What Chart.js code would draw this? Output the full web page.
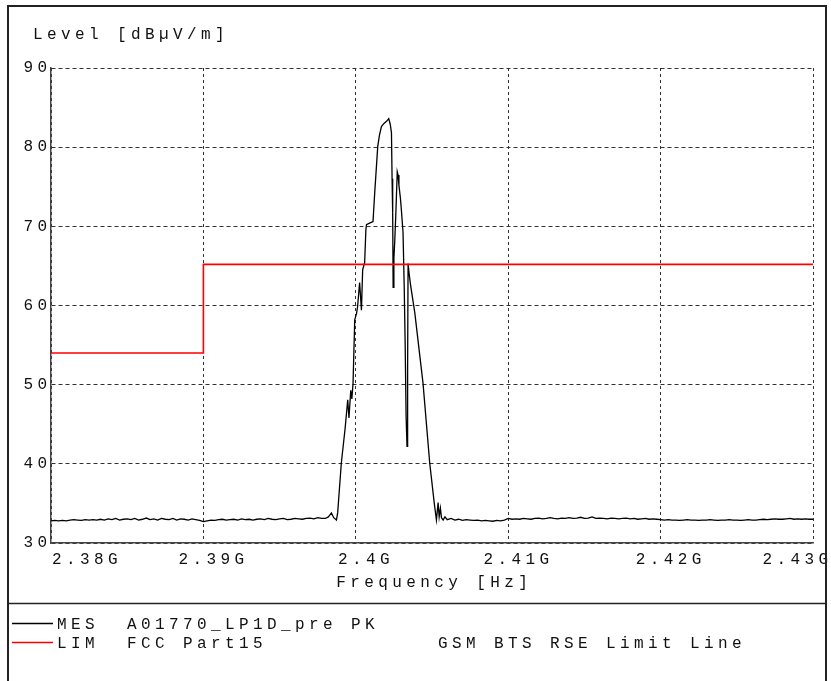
<!DOCTYPE html>
<html>
<head>
    <title>Level [dBµV/m]</title>
    <meta charset="UTF-8">
    <script src="https://cdn.jsdelivr.net/npm/chart.js"></script>
    <style>
        body {
            margin: 0;
            background: #fff;
        }
        #wrap {
            width: 831px;
            height: 681px;
        }
    </style>
</head>
<body>
    <div id="wrap"><canvas id="scan" width="831" height="681"></canvas></div>

    <script>
        // noise floor below the carrier (MHz / dBµV/m)
        const floorLeftMHz = [
            2380, 2380.25, 2380.5, 2380.75, 2381, 2381.25, 2381.5, 2381.75,
            2382, 2382.25, 2382.5, 2382.75, 2383, 2383.25, 2383.5, 2383.75,
            2384, 2384.25, 2384.5, 2384.75, 2385, 2385.25, 2385.5, 2385.75,
            2386, 2386.25, 2386.5, 2386.75, 2387, 2387.25, 2387.5, 2387.75,
            2388, 2388.25, 2388.5, 2388.75, 2389, 2389.25, 2389.5, 2389.75,
            2390, 2390.25, 2390.5, 2390.75, 2391, 2391.25, 2391.5, 2391.75,
            2392, 2392.25, 2392.5, 2392.75, 2393, 2393.25, 2393.5, 2393.75,
            2394, 2394.25, 2394.5, 2394.75, 2395, 2395.25, 2395.5, 2395.75,
            2396, 2396.25, 2396.5, 2396.75, 2397, 2397.25, 2397.5, 2397.75
        ];
        const floorLeftLevel = [
            32.8, 32.85, 32.8, 32.85, 32.8, 32.9, 32.95, 32.9,
            32.85, 32.95, 32.9, 32.95, 32.9, 33.0, 32.9, 33.05,
            32.95, 33.1, 32.9, 33.0, 33.05, 32.95, 33.1, 32.9,
            33.0, 33.15, 32.95, 33.05, 32.9, 33.1, 33.0, 32.95,
            33.1, 32.9, 33.05, 33.0, 32.9, 33.05, 32.95, 32.85,
            32.7, 32.8, 32.9, 32.85, 32.95, 33.0, 32.9, 32.95,
            33.0, 32.9, 33.05, 32.95, 33.0, 32.9, 33.0, 33.05,
            32.95, 33.1, 33.0, 32.95, 33.05, 33.1, 32.95, 33.0,
            33.1, 33.05, 33.0, 33.1, 33.15, 33.05, 33.2, 33.1
        ];

        // the carrier itself
        const peakMHz = [
            2398.00, 2398.20, 2398.40, 2398.55, 2398.73, 2398.81, 2399.05, 2399.30,
            2399.47, 2399.55, 2399.67, 2399.74, 2399.82, 2399.93, 2400.05, 2400.12,
            2400.25, 2400.37, 2400.45, 2400.58, 2400.66, 2400.70, 2400.90, 2401.13,
            2401.24, 2401.44, 2401.55, 2401.68, 2401.85, 2402.03, 2402.16, 2402.26,
            2402.34, 2402.38, 2402.42, 2402.45, 2402.50, 2402.55, 2402.62, 2402.72,
            2402.77, 2402.83, 2402.93, 2402.99, 2403.10, 2403.18, 2403.24, 2403.30,
            2403.36, 2403.40, 2403.43, 2403.50, 2403.60, 2403.87, 2404.41, 2404.85,
            2405.15, 2405.29, 2405.40, 2405.47, 2405.55, 2405.62, 2405.73, 2405.85
        ];
        const peakLevel = [
            33.1, 33.3, 33.8, 33.2, 32.9, 33.8, 40.1, 44.5,
            48.1, 45.8, 49.3, 48.2, 50.2, 58.2, 59.0, 59.9,
            62.9, 59.4, 64.5, 65.4, 69.5, 70.2, 70.4, 70.6,
            74.2, 80.1, 81.5, 82.6, 83.0, 83.3, 83.6, 82.9,
            81.8, 76.0, 71.7, 62.3, 66.0, 67.9, 71.2, 76.9,
            76.5, 75.2, 73.5, 72.1, 69.2, 62.0, 55.0, 46.0,
            42.2, 52.0, 65.3, 64.0, 62.5, 59.1, 50.2, 40.1,
            35.0, 32.9, 35.1, 33.3, 34.4, 33.2, 32.9, 33.3
        ];

        // noise floor above the carrier
        const floorRightMHz = [
            2406, 2406.25, 2406.5, 2406.75, 2407, 2407.25, 2407.5, 2407.75,
            2408, 2408.25, 2408.5, 2408.75, 2409, 2409.25, 2409.5, 2409.75,
            2410, 2410.25, 2410.5, 2410.75, 2411, 2411.25, 2411.5, 2411.75,
            2412, 2412.25, 2412.5, 2412.75, 2413, 2413.25, 2413.5, 2413.75,
            2414, 2414.25, 2414.5, 2414.75, 2415, 2415.25, 2415.5, 2415.75,
            2416, 2416.25, 2416.5, 2416.75, 2417, 2417.25, 2417.5, 2417.75,
            2418, 2418.25, 2418.5, 2418.75, 2419, 2419.25, 2419.5, 2419.75,
            2420, 2420.25, 2420.5, 2420.75, 2421, 2421.25, 2421.5, 2421.75,
            2422, 2422.25, 2422.5, 2422.75, 2423, 2423.25, 2423.5, 2423.75,
            2424, 2424.25, 2424.5, 2424.75, 2425, 2425.25, 2425.5, 2425.75,
            2426, 2426.25, 2426.5, 2426.75, 2427, 2427.25, 2427.5, 2427.75,
            2428, 2428.25, 2428.5, 2428.75, 2429, 2429.25, 2429.5, 2429.75,
            2430
        ];
        const floorRightLevel = [
            32.95, 33.1, 32.9, 33.0, 32.85, 32.95, 32.9, 32.85, 32.9,
            32.8, 32.85, 32.8, 32.75, 32.85, 32.8, 32.9,
            33.1, 33.0, 33.05, 33.0, 33.1, 33.05, 33.0, 33.1, 33.15, 33.05, 33.1, 33.2, 33.1,
            33.05, 33.15, 33.1, 33.2, 33.1, 33.15, 33.25, 33.1, 33.15, 33.3, 33.1, 33.15,
            33.1, 33.05, 33.15, 33.1, 33.05, 33.1, 33.15, 33.05,
            33.1, 33.0, 33.05, 33.1, 33.0, 33.05, 33.0, 32.95,
            32.9, 32.95, 32.9, 32.9, 32.85, 32.9, 32.95, 32.9, 32.9, 32.85, 32.9, 32.9, 32.95, 32.9,
            32.85, 32.9, 32.9, 32.95, 32.9, 32.9, 32.85, 32.9, 32.95, 32.9, 32.9, 32.95, 33.0, 32.95,
            33.0, 33.05, 33.0, 33.0, 33.05, 33.1, 33.0, 33.05, 33.0, 33.05, 33.0, 33.0
        ];

        // FCC limit line
        const limitMHz = [2380, 2390, 2390, 2430];
        const limitLevel = [54, 54, 65.2, 65.2];

        // axis ranges and texts
        const freqRange = [2380, 2430];
        const levelRange = [30, 90];
        const yTitle = 'Level [dBµV/m]';
        const xTitle = 'Frequency [Hz]';
        const legendCodes = ['MES', 'LIM'];
        const legendNames = ['A01770_LP1D_pre PK', 'FCC Part15'];
        const legendNotes = ['', 'GSM BTS RSE Limit Line'];

        const FONT = '16px "Liberation Mono", "Courier New", monospace';
        const SPACING = 4.4;
        const INK = '#111';

        const mesFreq = floorLeftMHz.concat(peakMHz, floorRightMHz);
        const mesLevel = floorLeftLevel.concat(peakLevel, floorRightLevel);

        function xLabel(v) {
            return parseFloat((v / 1000).toFixed(3)) + 'G';
        }

        // texts, legend and frame drawn like the receiver printout
        const printoutPlugin = {
            id: 'printout',
            afterDraw(chart) {
                const ctx = chart.ctx;
                const xs = chart.scales.x;
                const ys = chart.scales.y;
                const area = chart.chartArea;

                ctx.save();
                ctx.fillStyle = INK;
                ctx.font = FONT;
                ctx.letterSpacing = SPACING + 'px';
                ctx.textBaseline = 'middle';

                ctx.textAlign = 'left';
                ctx.fillText(yTitle, 33, 35);

                // y tick labels
                ctx.textAlign = 'right';
                ys.ticks.forEach(t => {
                    ctx.fillText(String(t.value), area.left - 4 + SPACING, ys.getPixelForValue(t.value));
                });

                // x tick labels
                const last = xs.ticks.length - 1;
                xs.ticks.forEach((t, i) => {
                    const px = xs.getPixelForValue(t.value);
                    const y = area.bottom + 17;
                    if (i === 0) {
                        ctx.textAlign = 'left';
                        ctx.fillText(xLabel(t.value), px + 1, y);
                    } else if (i === last) {
                        ctx.textAlign = 'right';
                        ctx.fillText(xLabel(t.value), px + 15 + SPACING, y);
                    } else {
                        ctx.textAlign = 'center';
                        ctx.fillText(xLabel(t.value), px + 8 + SPACING / 2, y);
                    }
                });

                ctx.textAlign = 'center';
                ctx.fillText(xTitle, (area.left + area.right) / 2 + SPACING / 2, area.bottom + 40);

                // legend
                ctx.textAlign = 'left';
                const sets = chart.data.datasets;
                legendCodes.forEach((code, i) => {
                    const y = 625 + i * 19;
                    ctx.strokeStyle = sets[i].borderColor;
                    ctx.lineWidth = 1.3;
                    ctx.beginPath();
                    ctx.moveTo(12, y - 1.5);
                    ctx.lineTo(53, y - 1.5);
                    ctx.stroke();
                    ctx.fillText(code, 57, y);
                    ctx.fillText(legendNames[i], 127, y);
                    if (legendNotes[i]) {
                        ctx.fillText(legendNotes[i], 438, y);
                    }
                });

                // frame
                ctx.strokeStyle = '#222';
                ctx.lineWidth = 2;
                ctx.strokeRect(8, 6, 818, 700);
                ctx.lineWidth = 1.5;
                ctx.beginPath();
                ctx.moveTo(8, 603.5);
                ctx.lineTo(826, 603.5);
                ctx.stroke();
                ctx.restore();
            }
        };

        const ctx = document.getElementById('scan').getContext('2d');
        const scanChart = new Chart(ctx, {
            type: 'line',
            data: {
                datasets: [
                    {
                        label: 'MES',
                        data: mesFreq.map((f, i) => ({ x: f, y: mesLevel[i] })),
                        borderColor: '#000000',
                        borderWidth: 1.3,
                        pointRadius: 0,
                        tension: 0,
                        fill: false,
                        order: 1
                    },
                    {
                        label: 'LIM',
                        data: limitMHz.map((f, i) => ({ x: f, y: limitLevel[i] })),
                        borderColor: '#ff0000',
                        borderWidth: 1.6,
                        pointRadius: 0,
                        tension: 0,
                        fill: false,
                        order: 0
                    }
                ]
            },
            options: {
                responsive: false,
                animation: false,
                events: [],
                layout: {
                    padding: { left: 51, top: 68, right: 18, bottom: 138 }
                },
                plugins: {
                    legend: { display: false },
                    tooltip: { enabled: false },
                    title: { display: false }
                },
                scales: {
                    x: {
                        type: 'linear',
                        min: freqRange[0],
                        max: freqRange[1],
                        ticks: { display: false, stepSize: 10 },
                        grid: { color: '#333', lineWidth: 1, drawTicks: false },
                        border: { display: true, color: '#444', width: 1.5, dash: [3, 3] },
                        afterFit: s => { s.height = 0; }
                    },
                    y: {
                        min: levelRange[0],
                        max: levelRange[1],
                        ticks: { display: false, stepSize: 10 },
                        grid: { color: '#333', lineWidth: 1, drawTicks: false },
                        border: { display: true, color: '#444', width: 1.5, dash: [4, 3] },
                        afterFit: s => { s.width = 0; }
                    }
                }
            },
            plugins: [printoutPlugin]
        });
    </script>
</body>
</html>
